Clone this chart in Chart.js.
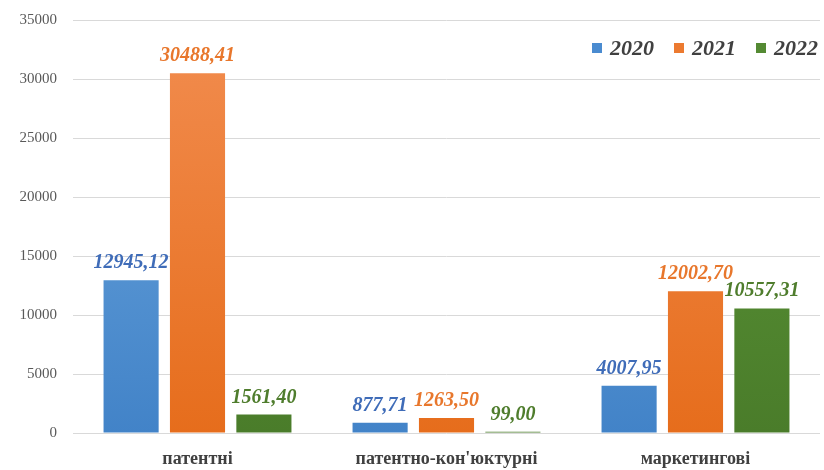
<!DOCTYPE html>
<html>
<head>
<meta charset="utf-8">
<script src="https://cdn.jsdelivr.net/npm/chart.js@4/dist/chart.umd.min.js"></script>
<style>
  html, body { margin: 0; padding: 0; background: #fff; }
  #wrap { width: 824px; height: 470px; }
</style>
</head>
<body>
<div id="wrap"><canvas id="chart"></canvas></div>
<script>
const categories = ["патентні", "патентно-кон'юктурні", "маркетингові"];
const years = ["2020", "2021", "2022"];
const values2020 = [12945.12, 877.71, 4007.95];
const values2021 = [30488.41, 1263.5, 12002.7];
const values2022 = [1561.4, 99.0, 10557.31];
const yTicks = [0, 5000, 10000, 15000, 20000, 25000, 30000, 35000];

const SERIF = "'Liberation Serif', 'Times New Roman', serif";

// top and bottom colours of each series, plus the label colour
const palette = [
  { top: "#6ea8de", bottom: "#4283c8", box: "#4a8bd0", label: "#3f6cb8" },
  { top: "#f28d50", bottom: "#e66d1c", box: "#ec7a30", label: "#e8772c" },
  { top: "#5e9a3a", bottom: "#4a7c2a", box: "#548a33", label: "#4f7d2d" },
];

const gradientFor = (idx) => (context) => {
  const area = context.chart.chartArea;
  const c = palette[idx];
  if (!area) return c.bottom;
  const g = context.chart.ctx.createLinearGradient(0, area.top, 0, area.bottom);
  g.addColorStop(0, c.top);
  g.addColorStop(1, c.bottom);
  return g;
};

const fmt = (v) => v.toFixed(2).replace(".", ",");

/*************************************************************
 * Value labels above bars
 *************************************************************/
const valueLabels = {
  id: "valueLabels",
  afterDatasetsDraw(chart) {
    const ctx = chart.ctx;
    ctx.save();
    ctx.font = "italic bold 20px " + SERIF;
    ctx.textAlign = "center";
    ctx.textBaseline = "alphabetic";
    chart.data.datasets.forEach((ds, i) => {
      const meta = chart.getDatasetMeta(i);
      ctx.fillStyle = palette[i].label;
      meta.data.forEach((bar, j) => {
        ctx.fillText(fmt(ds.data[j]), bar.x, bar.y - 12);
      });
    });
    ctx.restore();
  },
};

/*************************************************************
 * Legend inside the plot, top right
 *************************************************************/
const cornerLegend = {
  id: "cornerLegend",
  afterDraw(chart) {
    const ctx = chart.ctx;
    const area = chart.chartArea;
    const y = area.top + 28;
    ctx.save();
    ctx.font = "italic bold 22px " + SERIF;
    ctx.textBaseline = "middle";
    ctx.textAlign = "left";
    let x = area.right - 2;
    for (let i = chart.data.datasets.length - 1; i >= 0; i--) {
      const text = chart.data.datasets[i].label;
      const w = ctx.measureText(text).width;
      x -= w;
      ctx.fillStyle = "#404040";
      ctx.fillText(text, x, y + 1);
      x -= 18;
      ctx.fillStyle = palette[i].box;
      ctx.fillRect(x, y - 5, 10, 10);
      x -= 20;
    }
    ctx.restore();
  },
};

const seriesList = [values2020, values2021, values2022];

new Chart(document.getElementById("chart"), {
  type: "bar",
  data: {
    labels: categories,
    datasets: seriesList.map((vals, i) => ({
      label: years[i],
      data: vals,
      backgroundColor: gradientFor(i),
      borderWidth: 0,
    })),
  },
  options: {
    animation: false,
    responsive: true,
    maintainAspectRatio: false,
    categoryPercentage: 0.8,
    barPercentage: 0.83,
    layout: { padding: { top: 20, right: 4, left: 0, bottom: 0 } },
    plugins: {
      tooltip: { enabled: false },
      legend: { display: false },
    },
    scales: {
      x: {
        grid: { display: false },
        border: { display: false },
        ticks: {
          color: "#404040",
          padding: 8,
          font: { family: SERIF, size: 18, weight: "bold" },
        },
        afterFit: (scale) => {
          scale.height = 37;
        },
      },
      y: {
        min: 0,
        max: 35000,
        border: { display: false },
        grid: { color: "#d9d9d9", drawTicks: false, lineWidth: 1 },
        afterBuildTicks: (scale) => {
          scale.ticks = yTicks.map((v) => ({ value: v }));
        },
        ticks: {
          color: "#595959",
          padding: 16,
          font: { family: SERIF, size: 15 },
          callback: (v) => String(v),
        },
        afterFit: (scale) => {
          scale.width = 73;
          scale.paddingTop = 0;
          scale.paddingBottom = 0;
        },
      },
    },
  },
  plugins: [valueLabels, cornerLegend],
});
</script>
</body>
</html>
